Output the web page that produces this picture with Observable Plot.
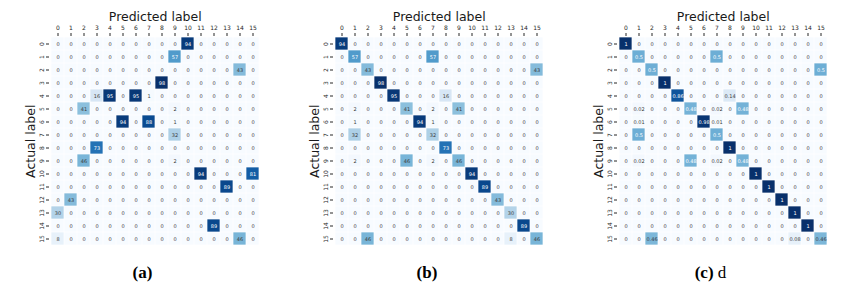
<!DOCTYPE html>
<html>
<head>
<meta charset="utf-8">
<script src="https://cdn.jsdelivr.net/npm/d3@7"></script>
<script src="https://cdn.jsdelivr.net/npm/@observablehq/plot@0.6"></script>
<style>
  html, body { margin: 0; padding: 0; background: white; }
  #root { position: relative; width: 865px; height: 288px; overflow: hidden; background: white; }
  .panel { position: absolute; top: 0; }
  .cap { position: absolute; top: 263px; width: 80px; margin-left: -40px; text-align: center;
         font-family: "Liberation Serif", "Times New Roman", serif; font-size: 17px; color: #000; line-height: 20px; }
  .cap b { font-weight: bold; }
</style>
</head>
<body>
<div id="root"></div>
<script>
// Class labels (tick labels on both axes)
const labels = ["0","1","2","3","4","5","6","7","8","9","10","11","12","13","14","15"];

// (a) confusion matrix: rows = actual label, columns = predicted label
const matrixA = [
  [0,0,0,0,0,0,0,0,0,0,94,0,0,0,0,0],
  [0,0,0,0,0,0,0,0,0,57,0,0,0,0,0,0],
  [0,0,0,0,0,0,0,0,0,0,0,0,0,0,43,0],
  [0,0,0,0,0,0,0,0,98,0,0,0,0,0,0,0],
  [0,0,0,16,95,0,95,1,0,0,0,0,0,0,0,0],
  [0,0,41,0,0,0,0,0,0,2,0,0,0,0,0,0],
  [0,0,0,0,0,94,0,88,0,1,0,0,0,0,0,0],
  [0,0,0,0,0,0,0,0,0,32,0,0,0,0,0,0],
  [0,0,0,73,0,0,0,0,0,0,0,0,0,0,0,0],
  [0,0,46,0,0,0,0,0,0,2,0,0,0,0,0,0],
  [0,0,0,0,0,0,0,0,0,0,0,94,0,0,0,81],
  [0,0,0,0,0,0,0,0,0,0,0,0,0,89,0,0],
  [0,43,0,0,0,0,0,0,0,0,0,0,0,0,0,0],
  [30,0,0,0,0,0,0,0,0,0,0,0,0,0,0,0],
  [0,0,0,0,0,0,0,0,0,0,0,0,89,0,0,0],
  [8,0,0,0,0,0,0,0,0,0,0,0,0,0,46,0]
];

// (b) confusion matrix
const matrixB = [
  [94,0,0,0,0,0,0,0,0,0,0,0,0,0,0,0],
  [0,57,0,0,0,0,0,57,0,0,0,0,0,0,0,0],
  [0,0,43,0,0,0,0,0,0,0,0,0,0,0,0,43],
  [0,0,0,98,0,0,0,0,0,0,0,0,0,0,0,0],
  [0,0,0,0,95,0,0,0,16,0,0,0,0,0,0,0],
  [0,2,0,0,0,41,0,2,0,41,0,0,0,0,0,0],
  [0,1,0,0,0,0,94,1,0,0,0,0,0,0,0,0],
  [0,32,0,0,0,0,0,32,0,0,0,0,0,0,0,0],
  [0,0,0,0,0,0,0,0,73,0,0,0,0,0,0,0],
  [0,2,0,0,0,46,0,2,0,46,0,0,0,0,0,0],
  [0,0,0,0,0,0,0,0,0,0,94,0,0,0,0,0],
  [0,0,0,0,0,0,0,0,0,0,0,89,0,0,0,0],
  [0,0,0,0,0,0,0,0,0,0,0,0,43,0,0,0],
  [0,0,0,0,0,0,0,0,0,0,0,0,0,30,0,0],
  [0,0,0,0,0,0,0,0,0,0,0,0,0,0,89,0],
  [0,0,46,0,0,0,0,0,0,0,0,0,0,8,0,46]
];

// (c) normalised confusion matrix
const matrixC = [
  [1,0,0,0,0,0,0,0,0,0,0,0,0,0,0,0],
  [0,0.5,0,0,0,0,0,0.5,0,0,0,0,0,0,0,0],
  [0,0,0.5,0,0,0,0,0,0,0,0,0,0,0,0,0.5],
  [0,0,0,1,0,0,0,0,0,0,0,0,0,0,0,0],
  [0,0,0,0,0.86,0,0,0,0.14,0,0,0,0,0,0,0],
  [0,0.02,0,0,0,0.48,0,0.02,0,0.48,0,0,0,0,0,0],
  [0,0.01,0,0,0,0,0.98,0.01,0,0,0,0,0,0,0,0],
  [0,0.5,0,0,0,0,0,0.5,0,0,0,0,0,0,0,0],
  [0,0,0,0,0,0,0,0,1,0,0,0,0,0,0,0],
  [0,0.02,0,0,0,0.48,0,0.02,0,0.48,0,0,0,0,0,0],
  [0,0,0,0,0,0,0,0,0,0,1,0,0,0,0,0],
  [0,0,0,0,0,0,0,0,0,0,0,1,0,0,0,0],
  [0,0,0,0,0,0,0,0,0,0,0,0,1,0,0,0],
  [0,0,0,0,0,0,0,0,0,0,0,0,0,1,0,0],
  [0,0,0,0,0,0,0,0,0,0,0,0,0,0,1,0],
  [0,0,0.46,0,0,0,0,0,0,0,0,0,0,0.08,0,0.46]
];

const titleX = "Predicted label";
const titleY = "Actual label";
const captions = [["(a)", ""], ["(b)", ""], ["(c)", " d"]];

function isDark(v, max) {
  const c = d3.rgb(d3.interpolateBlues(v / max));
  const lin = x => { x /= 255; return x <= 0.03928 ? x / 12.92 : Math.pow((x + 0.055) / 1.055, 2.4); };
  const lum = 0.2126 * lin(c.r) + 0.7152 * lin(c.g) + 0.0722 * lin(c.b);
  return lum < 0.408;
}

function panel(matrix) {
  const max = d3.max(matrix.flat());
  const data = matrix.flatMap((row, i) => row.map((v, j) => ({actual: labels[i], predicted: labels[j], v})));
  const textOpts = {x: "predicted", y: "actual", text: d => String(d.v), fontSize: 5};
  return Plot.plot({
    width: 270, height: 252,
    marginLeft: 48, marginRight: 10.5, marginTop: 35, marginBottom: 5.5,
    x: {domain: labels, padding: 0, axis: null},
    y: {domain: labels, padding: 0, axis: null},
    color: {type: "linear", scheme: "blues", domain: [0, max]},
    style: {fontFamily: "'DejaVu Sans', sans-serif", background: "white", overflow: "visible"},
    marks: [
      Plot.cell(data, {x: "predicted", y: "actual", fill: "v", inset: 0.35}),
      Plot.text(data, {...textOpts, filter: d => isDark(d.v, max), fill: "white"}),
      Plot.text(data, {...textOpts, filter: d => !isDark(d.v, max), fill: "#3a3a3a"}),
      Plot.axisX({anchor: "top", tickSize: 3, tickPadding: 3, fontSize: 6, label: null, color: "#262626"}),
      Plot.axisY({anchor: "left", tickSize: 3, tickPadding: 3, fontSize: 6, tickRotate: -90, label: null, color: "#262626"}),
      Plot.text([titleX], {frameAnchor: "top", dy: -18.5, lineAnchor: "middle", textAnchor: "middle", fontSize: 12.5, fill: "#1a1a1a"}),
      Plot.text([titleY], {frameAnchor: "left", dx: -19, rotate: -90, lineAnchor: "middle", textAnchor: "middle", fontSize: 12.5, fill: "#1a1a1a"})
    ]
  });
}

const root = document.getElementById("root");
const matrices = [matrixA, matrixB, matrixC];
const lefts = [0.5, 284.5, 568.5];
const capCenters = [142.5, 427, 710.5];
matrices.forEach((m, i) => {
  const div = document.createElement("div");
  div.className = "panel";
  div.style.left = lefts[i] + "px";
  div.appendChild(panel(m));
  root.appendChild(div);
  const cap = document.createElement("div");
  cap.className = "cap";
  cap.style.left = capCenters[i] + "px";
  const b = document.createElement("b");
  b.textContent = captions[i][0];
  cap.appendChild(b);
  if (captions[i][1]) cap.appendChild(document.createTextNode(captions[i][1]));
  root.appendChild(cap);
});
</script>
</body>
</html>
